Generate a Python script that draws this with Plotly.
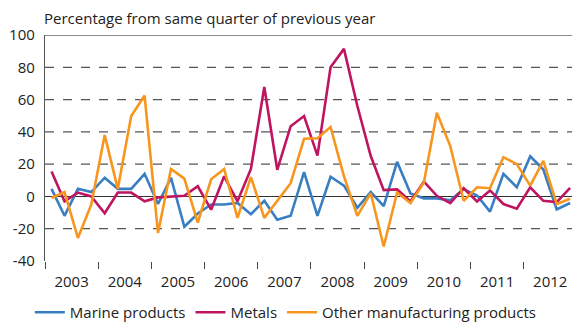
import plotly.graph_objects as go

# Quarterly growth, % from same quarter of previous year, 2003Q1 - 2012Q4
years = list(range(2003, 2013))
quarter_mid = ["02-15", "05-15", "08-15", "11-15"]

marine = [4.7, -12, 4.7, 2.7, 11.6, 4.7, 4.7, 14, -4.7, 11.6,
          -18.8, -10.6, -5, -5, -4, -11, -2.7, -14.5, -12, 15,
          -12, 12.2, 6.7, -7, 2.7, -6, 21.4, 1.8, -1.2, -1.2,
          -2.4, 4.5, 0.6, -9.4, 14, 5.7, 24.8, 16.7, -8, -4.1]
metals = [15.5, -3, 2.4, 0, -10.4, 2.4, 2.4, -3, -0.6, 0,
          0.4, 6.3, -8.2, 12.5, -3, 17, 67.8, 16.5, 43.5, 49.8,
          25.3, 80, 91.4, 56, 25, 3.9, 4.4, -3.1, 9.2, 0.4,
          -4.1, 5.1, -3.1, 3.7, -4.7, -7.6, 5.7, -2.7, -3.5, 5.3]
other = [-1, 2.7, -25.7, -5, 38, 4.7, 49.8, 62.5, -22.7, 17,
         11, -16.3, 10.6, 17, -13.3, 12, -13.3, -3, 8.2, 35.7,
         36, 43, 12.5, -12, 2, -31, 2.4, -4.1, 8.6, 51.8,
         31.2, -2.7, 5.7, 5.1, 24.3, 20, 6.7, 22, -4.7, -1.4]

y_ticks = [-40, -20, 0, 20, 40, 60, 80, 100]
y_labels = ["-40", "-20", "0", "20", "40", "60", "80", "100"]
grid_at = [-20, 20, 40, 60, 80]

x = [f"{y}-{m}" for y in years for m in quarter_mid]

series = [
    ("Marine products", marine, "#3a7ec2"),
    ("Metals", metals, "#bf1560"),
    ("Other manufacturing products", other, "#f7961e"),
]

FONT = "Open Sans"

fig = go.Figure()
for name, vals, col in series:
    fig.add_trace(go.Scatter(x=x, y=vals, name=name, mode="lines",
                             line=dict(color=col, width=2.6)))

shapes = [dict(type="line", xref="paper", yref="y", x0=0, x1=1, y0=g, y1=g,
               layer="below", line=dict(color="#555", width=1.3, dash="dash"))
          for g in grid_at]
shapes.append(dict(type="line", xref="paper", yref="y", x0=0, x1=1, y0=100, y1=100,
                   line=dict(color="#666", width=1.3)))

fig.update_layout(
    width=572, height=329,
    margin=dict(l=45, r=0, t=35, b=56),
    paper_bgcolor="white", plot_bgcolor="white",
    font=dict(family=FONT, size=15, color="#222"),
    showlegend=True,
    legend=dict(orientation="h", x=0.457, xanchor="center",
                y=-0.228, yanchor="middle", font=dict(size=15)),
    annotations=[dict(text="Percentage from same quarter of previous year",
                      xref="paper", yref="paper", x=-0.006, y=(273 - 17) / 238,
                      xanchor="left", yanchor="middle", showarrow=False,
                      font=dict(size=15))],
    shapes=shapes,
)

fig.update_xaxes(
    type="date",
    range=["2003-01-01", "2012-11-28"],
    tick0="2003-01-01", dtick="M12", tickformat="%Y",
    ticklabelmode="period",
    ticks="outside", ticklen=7, tickcolor="#444", tickwidth=1,
    showgrid=False, zeroline=False, showline=False,
)

fig.update_yaxes(
    range=[-40, 100],
    tickmode="array", tickvals=y_ticks, ticktext=y_labels,
    ticks="outside", ticklen=6, tickcolor="rgba(0,0,0,0)", showgrid=False,
    showline=True, linecolor="#555", linewidth=1.3,
    zeroline=True, zerolinecolor="#333", zerolinewidth=1.3,
)

fig.write_html("out.html", config={"displayModeBar": False},
               post_script="document.body.style.margin='0';")
